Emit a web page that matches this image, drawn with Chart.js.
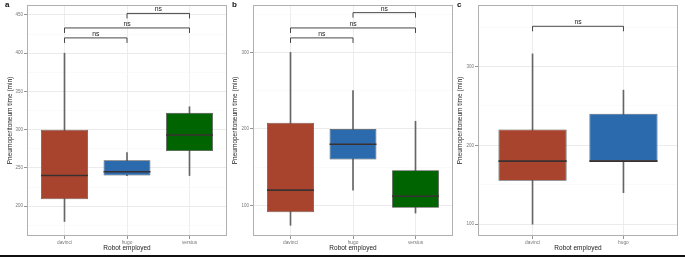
<!DOCTYPE html>
<html>
<head>
<meta charset="utf-8">
<script src="https://cdn.jsdelivr.net/npm/chart.js@4.4.1/dist/chart.umd.min.js"></script>
<style>
  body { margin: 0; background: #fff; }
  #wrap { position: relative; width: 685px; height: 260px; overflow: hidden; font-family: "Liberation Sans", Arial, sans-serif; }
  canvas { position: absolute; top: 0; }
  .tag { position: absolute; top: 0px; font-weight: bold; font-size: 8px; line-height: 10px; color: #111; }
  #rule { position: absolute; left: 0; top: 255px; width: 685px; height: 2px; background: #111; }
</style>
</head>
<body>
<div id="wrap">
  <canvas id="chartA" width="230" height="254" style="left:0px"></canvas>
  <canvas id="chartB" width="230" height="254" style="left:225px"></canvas>
  <canvas id="chartC" width="230" height="254" style="left:450px"></canvas>
  <div class="tag" style="left:5px">a</div>
  <div class="tag" style="left:232px">b</div>
  <div class="tag" style="left:457px">c</div>
  <div id="rule"></div>
</div>
<script>
// kategori robot
const robots3 = ["davinci", "hugo", "versius"];
const robots2 = ["davinci", "hugo"];
const boxColors = ["#a8442e", "#2b6bad", "#006400"];

// ringkasan boxplot per robot: [min, q1, median, q3, max]
const statsA = [[180, 209, 240, 300, 400], [240, 240, 245, 260, 270], [240, 272, 293, 322, 330]];
const statsB = [[74, 91, 120, 208, 300], [120, 160, 180, 200, 250], [90, 97, 112, 146, 210]];
const statsC = [[100, 155, 180, 220, 316], [140, 180, 180, 240, 270]];

// tick sumbu y (mayor berlabel, minor hanya grid)
const majorA = [200, 250, 300, 350, 400, 450];
const minorA = [175, 225, 275, 325, 375, 425];
const majorB = [100, 200, 300];
const minorB = [150, 250, 350];
const majorC = [100, 200, 300];
const minorC = [150, 250, 350];

const rangeA = [161, 463];
const rangeB = [60, 362];
const rangeC = [85, 378];

// bracket perbandingan: [dari, ke, nilai y, label]
const bracketsA = [[2, 3, 452, "ns"], [1, 3, 433, "ns"], [1, 2, 420, "ns"]];
const bracketsB = [[2, 3, 352, "ns"], [1, 3, 332, "ns"], [1, 2, 319, "ns"]];
const bracketsC = [[1, 2, 351, "ns"]];

const FONT = "'Liberation Sans', Arial, sans-serif";

// Plugin untuk median, bracket dan bingkai panel
const boxExtras = {
  id: "boxExtras",
  afterDatasetsDraw(chart, args, opts) {
    const { ctx, scales: { x, y } } = chart;
    const boxMeta = chart.getDatasetMeta(1);
    ctx.save();
    opts.stats.forEach((s, i) => {
      const bar = boxMeta.data[i];
      const half = bar.width / 2;
      const py = y.getPixelForValue(s[2]);
      ctx.strokeStyle = "#3a3030";
      ctx.lineWidth = 1.6;
      ctx.beginPath();
      ctx.moveTo(bar.x - half, py);
      ctx.lineTo(bar.x + half, py);
      ctx.stroke();
    });
    opts.brackets.forEach((b) => {
      const x1 = x.getPixelForValue(b[0]);
      const x2 = x.getPixelForValue(b[1]);
      const py = y.getPixelForValue(b[2]);
      ctx.strokeStyle = "#333";
      ctx.lineWidth = 0.9;
      ctx.beginPath();
      ctx.moveTo(x1, py + 5);
      ctx.lineTo(x1, py);
      ctx.lineTo(x2, py);
      ctx.lineTo(x2, py + 5);
      ctx.stroke();
      ctx.fillStyle = "#222";
      ctx.font = "6.8px " + FONT;
      ctx.textAlign = "center";
      ctx.textBaseline = "bottom";
      ctx.fillText(b[3], (x1 + x2) / 2, py - 0.5);
    });
    ctx.restore();
  },
  afterDraw(chart) {
    const { ctx, chartArea: a } = chart;
    ctx.save();
    ctx.strokeStyle = "#b0b0b0";
    ctx.lineWidth = 1;
    ctx.strokeRect(a.left + 0.5, a.top + 0.5, a.right - a.left - 1, a.bottom - a.top - 1);
    ctx.restore();
  },
};

function makePanel(id, cats, stats, major, minor, range, brackets, yWidth, padRight) {
  const whiskers = stats.map((s, i) => ({ x: i + 1, y: [s[0], s[4]] }));
  const boxes = stats.map((s, i) => ({ x: i + 1, y: [s[1], s[3]] }));

  new Chart(document.getElementById(id), {
    type: "bar",
    data: {
      datasets: [
        {
          data: whiskers,
          backgroundColor: "#666",
          barThickness: 1,
          grouped: false,
          order: 2,
        },
        {
          data: boxes,
          backgroundColor: boxColors.slice(0, cats.length),
          borderColor: "#4a4a4a",
          borderWidth: 0.8,
          borderSkipped: false,
          barPercentage: 0.75,
          categoryPercentage: 1,
          grouped: false,
          order: 1,
        },
      ],
    },
    options: {
      responsive: false,
      animation: false,
      devicePixelRatio: 1,
      layout: { padding: { top: 5, right: padRight, bottom: 0, left: 0 } },
      plugins: {
        legend: { display: false },
        tooltip: { enabled: false },
        boxExtras: { stats: stats, brackets: brackets },
      },
      scales: {
        x: {
          type: "linear",
          offset: false,
          min: 0.4,
          max: cats.length + 0.6,
          afterBuildTicks: (axis) => {
            axis.ticks = cats.map((c, i) => ({ value: i + 1 }));
          },
          afterFit: (axis) => {
            axis.height = 18;
          },
          ticks: {
            callback: (v) => cats[v - 1],
            font: { size: 4.8, family: FONT },
            color: "#777",
            padding: 1,
            autoSkip: false,
            maxRotation: 0,
          },
          grid: { offset: false, color: "#ebebeb", lineWidth: 0.9, tickLength: 3, tickColor: "#888" },
          border: { display: false },
          title: {
            display: true,
            text: "Robot employed",
            font: { size: 6.5, family: FONT },
            color: "#222",
            padding: { top: 0, bottom: 2 },
          },
        },
        y: {
          type: "linear",
          min: range[0],
          max: range[1],
          afterBuildTicks: (axis) => {
            axis.ticks = major.concat(minor).sort((a, b) => a - b).map((v) => ({ value: v }));
          },
          afterFit: (axis) => {
            axis.width = yWidth;
          },
          ticks: {
            callback: (v) => (major.includes(v) ? v : ""),
            font: { size: 4.5, family: FONT },
            color: "#777",
            padding: 1,
            autoSkip: false,
          },
          grid: {
            color: (c) => (c.tick && major.includes(c.tick.value) ? "#e9e9e9" : "#f4f4f4"),
            lineWidth: (c) => (c.tick && major.includes(c.tick.value) ? 0.9 : 0.5),
            tickLength: 3,
            tickColor: (c) => (c.tick && major.includes(c.tick.value) ? "#888" : "rgba(0,0,0,0)"),
          },
          border: { display: false },
          title: {
            display: true,
            text: "Pneumoperitoneum time (min)",
            font: { size: 6.5, family: FONT },
            color: "#222",
            padding: { top: 6, bottom: 0 },
          },
        },
      },
    },
    plugins: [boxExtras],
  });
}

document.addEventListener("DOMContentLoaded", () => {
  makePanel("chartA", robots3, statsA, majorA, minorA, rangeA, bracketsA, 27, 3);
  makePanel("chartB", robots3, statsB, majorB, minorB, rangeB, bracketsB, 28, 2);
  makePanel("chartC", robots2, statsC, majorC, minorC, rangeC, bracketsC, 28, 2);
});
</script>
</body>
</html>
